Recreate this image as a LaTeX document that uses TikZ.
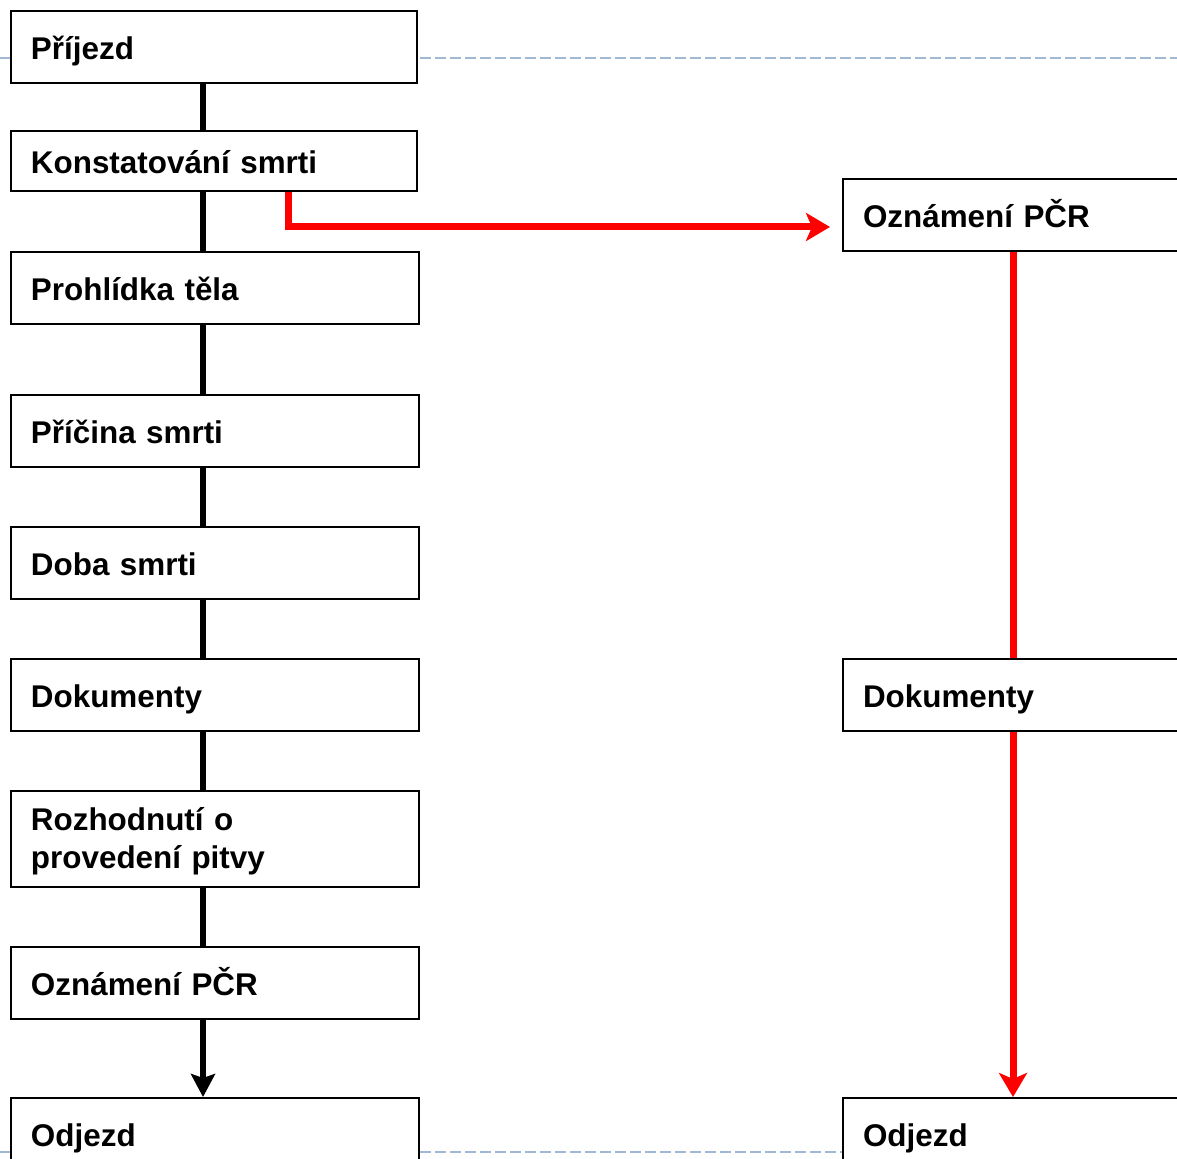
\documentclass[tikz,border=0pt]{standalone}
\usepackage{fontspec}
\setmainfont{Liberation Sans}
\usetikzlibrary{arrows.meta}
\definecolor{guidecol}{RGB}{160,184,210}
\begin{document}
\begin{tikzpicture}[x=0.5pt,y=-0.5pt,
  box/.style={draw,line width=1pt,fill=white,anchor=north west,
    minimum width=204pt,minimum height=36pt,inner xsep=10pt,
    text width=184pt,align=left,text height=14.5pt,text depth=2pt,
    font=\fontsize{15.7}{19}\selectfont\bfseries},
  narrow/.style={minimum width=203pt,text width=183pt},
  conn/.style={line width=3.4pt},
  redconn/.style={line width=3.5pt,red},
  guide/.style={dash pattern=on 5.5pt off 2pt,line width=1pt,guidecol}]
  \clip (0,0) rectangle (1177,1159);
  % dashed guides behind the boxes
  \draw[guide] (0,58) -- (1177,58);
  \draw[guide] (0,1152) -- (1177,1152);
  % left column
  \node[box,narrow] (prijezd) at (10,10) {Příjezd};
  \node[box,narrow,minimum height=30pt] (konst) at (10,130) {Konstatování smrti};
  \node[box] (prohl) at (10,251) {Prohlídka těla};
  \node[box] (pricina) at (10,394) {Příčina smrti};
  \node[box] (doba) at (10,526) {Doba smrti};
  \node[box] (dok) at (10,658) {Dokumenty};
  \node[box,minimum height=48pt,text height=,text depth=] (pitva) at (10,790)
    {\rule{0pt}{14pt}Rozhodnutí o\\provedení pitvy};
  \node[box] (ozn) at (10,946) {Oznámení PČR};
  \node[box] (odj) at (10,1097) {Odjezd};
  % right column
  \node[box,inner xsep=9.5pt] (oznR) at (842,178) {Oznámení PČR};
  \node[box,inner xsep=9.5pt] (dokR) at (842,658) {Dokumenty};
  \node[box,inner xsep=9.5pt] (odjR) at (842,1097) {Odjezd};
  \coordinate (spine) at (203,0);
  \coordinate (rspine) at (1013,0);
  % black chain
  \foreach \a/\b in {prijezd/konst,konst/prohl,prohl/pricina,pricina/doba,
    doba/dok,dok/pitva,pitva/ozn}
    \draw[conn] (\a.south -| spine) -- (\b.north -| spine);
  \draw[conn,-{Stealth[length=11.5pt,width=12pt,inset=2pt]}]
    (ozn.south -| spine) -- (odj.north -| spine);
  % red branch
  \draw[redconn,-{Stealth[length=12pt,width=14pt,inset=3pt]},shorten >=6pt]
    ([xshift=139pt]konst.south west) |- ([yshift=-6pt]oznR.west);
  \draw[redconn] (oznR.south -| rspine) -- (dokR.north -| rspine);
  \draw[redconn,-{Stealth[length=12pt,width=14pt,inset=3pt]}]
    (dokR.south -| rspine) -- (odjR.north -| rspine);
\end{tikzpicture}
\end{document}
